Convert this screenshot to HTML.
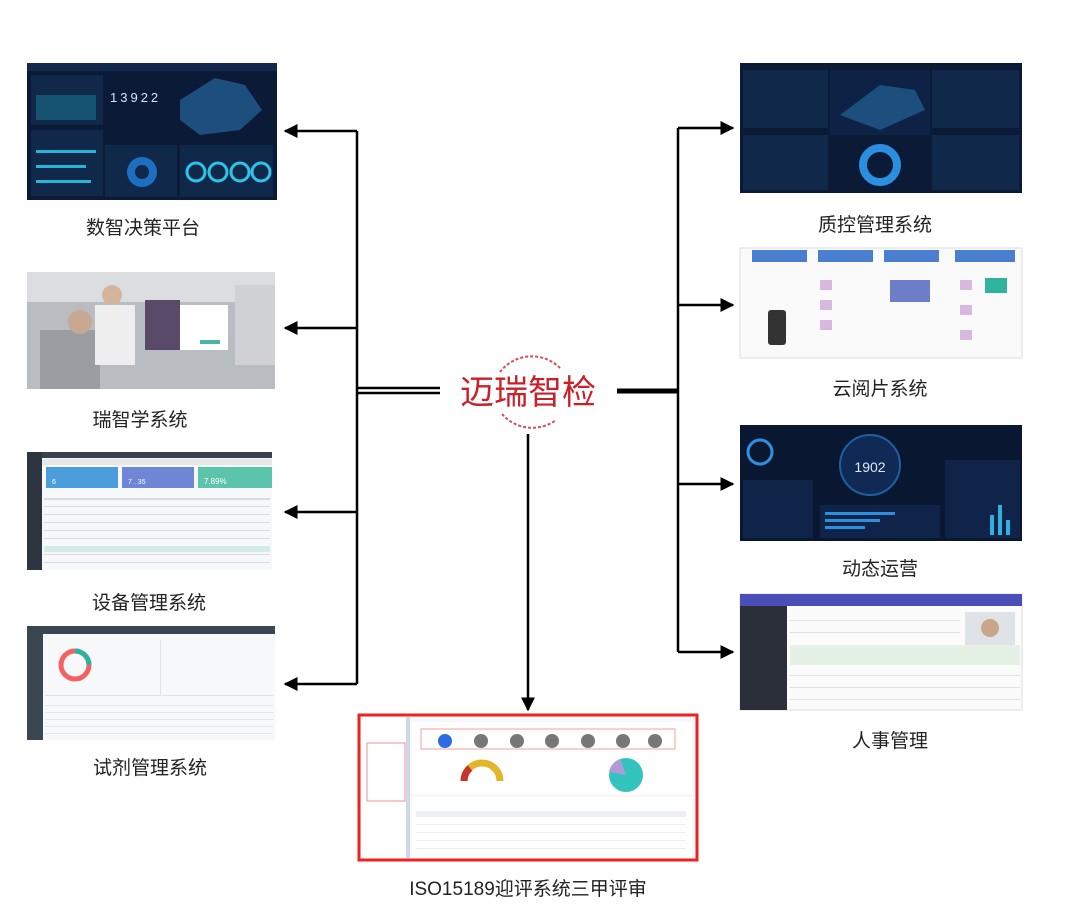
<!DOCTYPE html>
<html><head><meta charset="utf-8"><style>
body{margin:0;background:#fff;width:1080px;height:906px;overflow:hidden}
text{font-family:"Liberation Sans","Noto Sans CJK SC",sans-serif}
</style></head><body>
<svg width="1080" height="906" xmlns="http://www.w3.org/2000/svg">
<defs>
<marker id="ah2" viewBox="0 0 10 10" markerWidth="14" markerHeight="14" refX="9" refY="5" orient="auto" markerUnits="userSpaceOnUse"><path d="M0,0 L10,5 L0,10 z" fill="#000"/></marker>
</defs>
<rect width="1080" height="906" fill="#fff"/>

<!-- Left: 数智决策平台 -->
<rect x="27" y="63" width="250" height="137" fill="#0b1a36"/>
<rect x="27" y="63" width="250" height="8" fill="#12284d"/>
<rect x="31" y="75" width="72" height="50" fill="#10284a"/>
<rect x="36" y="95" width="60" height="25" fill="#1b6f8a" opacity=".6"/>
<rect x="31" y="130" width="72" height="66" fill="#10284a"/>
<rect x="36" y="150" width="60" height="3" fill="#25b5d6"/><rect x="36" y="165" width="50" height="3" fill="#25b5d6"/><rect x="36" y="180" width="55" height="3" fill="#25b5d6"/>
<text x="110" y="102" font-size="13" fill="#cfe6ff" letter-spacing="3">13922</text>
<path d="M180,100 L215,78 L245,85 L262,110 L240,130 L200,135 L180,120z" fill="#1c4f7d"/>
<rect x="105" y="145" width="72" height="52" fill="#10284a"/>
<circle cx="142" cy="172" r="15" fill="#1d6fc2"/><circle cx="142" cy="172" r="7" fill="#10284a"/>
<rect x="180" y="145" width="93" height="52" fill="#10284a"/>
<circle cx="196" cy="172" r="9" fill="none" stroke="#2ec3e6" stroke-width="3"/><circle cx="218" cy="172" r="9" fill="none" stroke="#2ec3e6" stroke-width="3"/><circle cx="240" cy="172" r="9" fill="none" stroke="#2ec3e6" stroke-width="3"/><circle cx="261" cy="172" r="9" fill="none" stroke="#2ec3e6" stroke-width="3"/>
<text x="143" y="234" font-size="19" text-anchor="middle" fill="#222">数智决策平台</text>

<!-- 瑞智学系统 -->
<rect x="27" y="272" width="248" height="117" fill="#b9bcc0"/>
<rect x="27" y="272" width="248" height="30" fill="#dcdde0"/>
<rect x="40" y="330" width="60" height="59" fill="#9a9da2"/>
<circle cx="80" cy="322" r="12" fill="#c8a890"/>
<circle cx="112" cy="295" r="10" fill="#d4b59c"/>
<rect x="95" y="305" width="40" height="60" fill="#eeeeef"/>
<rect x="145" y="300" width="35" height="50" fill="#5a4a6a"/>
<rect x="180" y="305" width="48" height="45" fill="#fff"/>
<rect x="200" y="340" width="20" height="4" fill="#4bb6a8"/>
<rect x="235" y="285" width="40" height="80" fill="#cfd1d4"/>
<text x="140" y="426" font-size="19" text-anchor="middle" fill="#222">瑞智学系统</text>

<!-- 设备管理系统 -->
<rect x="27" y="452" width="245" height="118" fill="#f7f8f9"/>
<rect x="27" y="452" width="15" height="118" fill="#2d3540"/>
<rect x="42" y="452" width="230" height="6" fill="#3a4250"/>
<rect x="42" y="459" width="230" height="6" fill="#e5e7ea"/>
<rect x="46" y="467" width="72" height="21" fill="#4b9ddc"/>
<rect x="122" y="467" width="72" height="21" fill="#6f86d6"/>
<rect x="198" y="467" width="74" height="21" fill="#5cc4ab"/>
<text x="52" y="484" font-size="7" fill="#fff">6</text><text x="128" y="484" font-size="7" fill="#fff">7 . 35</text><text x="204" y="484" font-size="8" fill="#fff">7.89%</text>
<g fill="#d8dbe0"><rect x="44" y="498" width="226" height="2"/><rect x="44" y="506" width="226" height="1"/><rect x="44" y="514" width="226" height="1"/><rect x="44" y="522" width="226" height="1"/><rect x="44" y="530" width="226" height="1"/><rect x="44" y="538" width="226" height="1"/><rect x="44" y="554" width="226" height="1"/><rect x="44" y="562" width="226" height="1"/></g>
<rect x="44" y="546" width="226" height="6" fill="#d5ebe6"/>
<text x="149" y="609" font-size="19" text-anchor="middle" fill="#222">设备管理系统</text>

<!-- 试剂管理系统 -->
<rect x="27" y="626" width="248" height="114" fill="#f7f8f9"/>
<rect x="27" y="626" width="248" height="8" fill="#3a4652"/>
<rect x="27" y="634" width="16" height="106" fill="#3a4652"/>
<circle cx="75" cy="665" r="14" fill="none" stroke="#f26262" stroke-width="5"/>
<path d="M75,651 A14,14 0 0 1 89,665" fill="none" stroke="#2bb3a1" stroke-width="5"/>
<rect x="160" y="640" width="1" height="55" fill="#e2e2e2"/>
<rect x="45" y="695" width="228" height="1" fill="#e2e2e2"/>
<g fill="#e6e6e6"><rect x="45" y="705" width="228" height="1"/><rect x="45" y="712" width="228" height="1"/><rect x="45" y="719" width="228" height="1"/><rect x="45" y="726" width="228" height="1"/><rect x="45" y="733" width="228" height="1"/></g>
<text x="150" y="774" font-size="19" text-anchor="middle" fill="#222">试剂管理系统</text>

<!-- Right: 质控管理系统 -->
<rect x="740" y="63" width="282" height="130" fill="#0b1a36"/>
<rect x="743" y="70" width="85" height="58" fill="#10284a"/>
<rect x="830" y="70" width="100" height="65" fill="#0d2244"/>
<path d="M840,115 L880,85 L915,90 L925,110 L880,130z" fill="#1c4f7d"/>
<rect x="932" y="70" width="87" height="58" fill="#10284a"/>
<rect x="743" y="135" width="85" height="55" fill="#10284a"/>
<circle cx="880" cy="165" r="17" fill="none" stroke="#2b8fe0" stroke-width="8"/>
<rect x="932" y="135" width="87" height="55" fill="#10284a"/>
<text x="875" y="231" font-size="19" text-anchor="middle" fill="#222">质控管理系统</text>

<!-- 云阅片系统 -->
<rect x="740" y="248" width="282" height="110" fill="#fafafa" stroke="#ddd"/>
<rect x="752" y="250" width="55" height="12" fill="#4a7fd0"/>
<rect x="818" y="250" width="55" height="12" fill="#4a7fd0"/>
<rect x="884" y="250" width="55" height="12" fill="#4a7fd0"/>
<rect x="955" y="250" width="60" height="12" fill="#4a7fd0"/>
<rect x="768" y="310" width="18" height="35" rx="3" fill="#333"/>
<g fill="#d9b8e0"><rect x="820" y="280" width="12" height="10"/><rect x="820" y="300" width="12" height="10"/><rect x="820" y="320" width="12" height="10"/><rect x="960" y="280" width="12" height="10"/><rect x="960" y="305" width="12" height="10"/><rect x="960" y="330" width="12" height="10"/></g>
<rect x="890" y="280" width="40" height="22" fill="#6d7dc8"/>
<rect x="985" y="278" width="22" height="15" fill="#2fb39e"/>
<text x="880" y="395" font-size="19" text-anchor="middle" fill="#222">云阅片系统</text>

<!-- 动态运营 -->
<rect x="740" y="425" width="282" height="116" fill="#0a1730"/>
<circle cx="760" cy="452" r="12" fill="none" stroke="#2e8fe0" stroke-width="3"/>
<circle cx="870" cy="465" r="30" fill="#102a55" stroke="#1e5fa5" stroke-width="2"/>
<text x="870" y="472" font-size="14" text-anchor="middle" fill="#dbeaff">1902</text>
<rect x="743" y="480" width="70" height="58" fill="#0f2448"/>
<rect x="820" y="505" width="120" height="33" fill="#0f2448"/>
<g fill="#2b8fe0"><rect x="825" y="512" width="70" height="3"/><rect x="825" y="519" width="55" height="3"/><rect x="825" y="526" width="40" height="3"/></g>
<rect x="945" y="460" width="75" height="78" fill="#0f2448"/>
<g fill="#2fb0e0"><rect x="990" y="515" width="4" height="20"/><rect x="998" y="505" width="4" height="30"/><rect x="1006" y="520" width="4" height="15"/></g>
<text x="880" y="575" font-size="19" text-anchor="middle" fill="#222">动态运营</text>

<!-- 人事管理 -->
<rect x="740" y="594" width="282" height="116" fill="#fbfbfb" stroke="#ddd"/>
<rect x="740" y="594" width="282" height="12" fill="#4a4fb8"/>
<rect x="740" y="606" width="47" height="104" fill="#2a2f3a"/>
<rect x="965" y="612" width="50" height="38" fill="#dfe3e8"/>
<circle cx="990" cy="628" r="9" fill="#c9a58a"/>
<rect x="790" y="645" width="230" height="20" fill="#e4f1e4"/>
<g fill="#e0e0e0"><rect x="790" y="620" width="170" height="1"/><rect x="790" y="632" width="170" height="1"/><rect x="790" y="675" width="230" height="1"/><rect x="790" y="687" width="230" height="1"/><rect x="790" y="699" width="230" height="1"/></g>
<text x="890" y="747" font-size="19" text-anchor="middle" fill="#222">人事管理</text>

<!-- Bottom ISO -->
<rect x="359" y="715" width="338" height="145" fill="#f6f8fb" stroke="#ee2222" stroke-width="3"/>
<rect x="361" y="717" width="45" height="141" fill="#fff"/>
<rect x="367" y="743" width="38" height="58" fill="none" stroke="#f09090"/>
<rect x="406" y="717" width="4" height="141" fill="#cfd8ea"/>
<rect x="412" y="722" width="280" height="72" fill="#fff"/>
<rect x="421" y="729" width="254" height="20" fill="none" stroke="#f0a0a0"/>
<circle cx="445" cy="741" r="7" fill="#2c6be0"/>
<g fill="#777"><circle cx="481" cy="741" r="7"/><circle cx="517" cy="741" r="7"/><circle cx="552" cy="741" r="7"/><circle cx="588" cy="741" r="7"/><circle cx="623" cy="741" r="7"/><circle cx="655" cy="741" r="7"/></g>
<path d="M464,781 A18,18 0 0 1 500,781" fill="none" stroke="#e2b52a" stroke-width="7"/>
<path d="M464,781 A18,18 0 0 1 470,768" fill="none" stroke="#c8332d" stroke-width="7"/>
<circle cx="626" cy="775" r="17" fill="#33c4bf"/>
<path d="M626,775 L609,772 A17,17 0 0 1 620,759z" fill="#b09ad8"/>
<rect x="412" y="797" width="280" height="61" fill="#fff"/>
<rect x="416" y="811" width="270" height="6" fill="#eceff3"/>
<g fill="#eee"><rect x="416" y="824" width="270" height="1"/><rect x="416" y="832" width="270" height="1"/><rect x="416" y="840" width="270" height="1"/><rect x="416" y="848" width="270" height="1"/></g>
<text x="528" y="895" font-size="19" text-anchor="middle" fill="#222">ISO15189迎评系统三甲评审</text>

<!-- Logo -->
<path d="M500,372 A40,40 0 0 1 560,368" fill="none" stroke="#c9202a" stroke-width="2" stroke-dasharray="3,2" opacity=".8"/>
<path d="M502,414 A40,40 0 0 0 556,420" fill="none" stroke="#c9202a" stroke-width="2" stroke-dasharray="3,2" opacity=".8"/>
<text x="528" y="404" font-size="34" text-anchor="middle" fill="#c9202a">迈瑞智检</text>

<!-- Connectors left -->
<g stroke="#000" stroke-width="2.5" fill="none">
<line x1="357" y1="131" x2="357" y2="684"/>
<line x1="357" y1="131" x2="285" y2="131" marker-end="url(#ah2)"/>
<line x1="357" y1="328" x2="285" y2="328" marker-end="url(#ah2)"/>
<line x1="357" y1="512" x2="285" y2="512" marker-end="url(#ah2)"/>
<line x1="357" y1="684" x2="285" y2="684" marker-end="url(#ah2)"/>
<line x1="357" y1="388" x2="440" y2="388"/>
<line x1="357" y1="393" x2="440" y2="393"/>
</g>
<!-- right -->
<g stroke="#000" stroke-width="2.5" fill="none">
<line x1="678" y1="128" x2="678" y2="652"/>
<line x1="678" y1="128" x2="733" y2="128" marker-end="url(#ah2)"/>
<line x1="678" y1="305" x2="733" y2="305" marker-end="url(#ah2)"/>
<line x1="678" y1="484" x2="733" y2="484" marker-end="url(#ah2)"/>
<line x1="678" y1="652" x2="733" y2="652" marker-end="url(#ah2)"/>
<line x1="617" y1="391" x2="678" y2="391" stroke-width="5"/>
<line x1="528" y1="434" x2="528" y2="710" marker-end="url(#ah2)"/>
</g>
</svg>
</body></html>
